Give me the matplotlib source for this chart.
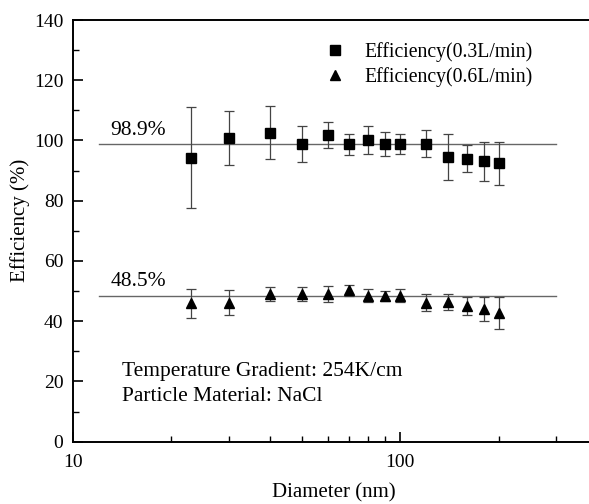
import matplotlib
matplotlib.use("Agg")
import matplotlib.pyplot as plt
from matplotlib.ticker import AutoMinorLocator, NullFormatter, FixedLocator, FormatStrFormatter

plt.rcParams['font.family'] = ['Liberation Serif', 'DejaVu Serif']

# particle diameters (nm)
diameter = [23, 30, 40, 50, 60, 70, 80, 90, 100, 120, 140, 160, 180, 200]

# efficiency at 0.3 L/min
eff_03 = [94.3, 100.7, 102.6, 98.8, 101.9, 98.7, 100.2, 98.8, 98.7, 99.0, 94.6, 94.0, 93.1, 92.4]
err_03 = [16.7, 9.0, 8.8, 5.9, 4.4, 3.5, 4.7, 4.0, 3.3, 4.4, 7.7, 4.5, 6.4, 7.1]

# efficiency at 0.6 L/min
eff_06 = [46.0, 46.2, 49.0, 49.1, 49.0, 50.3, 48.5, 48.4, 48.5, 46.1, 46.4, 45.0, 44.0, 42.7]
err_06 = [4.8, 4.0, 2.2, 2.3, 2.7, 1.8, 2.2, 1.7, 2.2, 2.8, 2.6, 3.1, 4.0, 5.2]

# average efficiency lines
avg_03 = 98.9
avg_06 = 48.5
avg_range = [12, 300]

fig = plt.figure(figsize=(5.89, 5.04), dpi=100)
ax = fig.add_axes([0.124, 0.1236, 0.876, 0.8367])

ax.plot(avg_range, [avg_03, avg_03], color='#666666', lw=1.0, zorder=1)
ax.plot(avg_range, [avg_06, avg_06], color='#666666', lw=1.0, zorder=1)

ax.errorbar(diameter, eff_03, yerr=err_03, fmt='s', color='black', ms=6.5,
            ecolor='#444444', elinewidth=0.9, capsize=3.5, capthick=0.9,
            label='Efficiency(0.3L/min)', zorder=3)
ax.errorbar(diameter, eff_06, yerr=err_06, fmt='^', color='black', ms=7.5,
            ecolor='#444444', elinewidth=0.9, capsize=3.5, capthick=0.9,
            label='Efficiency(0.6L/min)', zorder=3)

ax.text(13.0, 101.8, '98.9%', fontsize=15.5)
ax.text(13.0, 51.7, '48.5%', fontsize=15.5)
ax.text(14.1, 23.3, 'Temperature Gradient: 254K/cm', fontsize=15.5, va='center')
ax.text(14.1, 14.9, 'Particle Material: NaCl', fontsize=15.5, va='center')

ax.set_xscale('log')
ax.set_xlim(10, 378)
ax.set_ylim(0, 140)
ax.xaxis.set_major_locator(FixedLocator([10, 100]))
ax.xaxis.set_major_formatter(FormatStrFormatter('%d'))
ax.xaxis.set_minor_formatter(NullFormatter())
ax.yaxis.set_minor_locator(AutoMinorLocator(2))

ax.tick_params(which='both', direction='in', labelsize=14)
ax.tick_params(axis='x', which='major', length=7, width=1.2, pad=9)
ax.tick_params(axis='x', which='minor', length=4, width=1.0)
ax.tick_params(axis='y', which='major', length=7, width=1.2, pad=7)
ax.tick_params(axis='y', which='minor', length=4, width=1.0)

for side in ['left', 'bottom', 'top']:
    ax.spines[side].set_linewidth(1.4)
ax.spines['right'].set_visible(False)

ax.set_xlabel('Diameter (nm)', fontsize=15, va='top')
ax.xaxis.set_label_coords(0.506, -0.098)
ax.set_ylabel('Efficiency (%)', fontsize=15)
ax.yaxis.set_label_coords(-0.083, 0.526)

handles, labels = ax.get_legend_handles_labels()
handles = [h[0] for h in handles]
ax.legend(handles, labels, loc='upper left', bbox_to_anchor=(0.45, 0.99),
          frameon=False, fontsize=14.2, handletextpad=0.9, labelspacing=0.25,
          handlelength=1.2)

fig.savefig('out.png', dpi=100)
